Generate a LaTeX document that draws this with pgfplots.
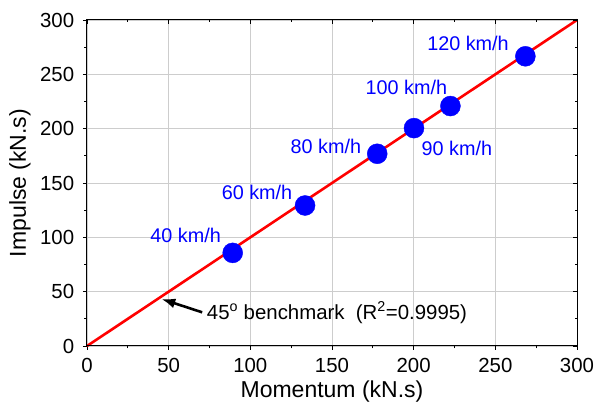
\documentclass[border=0pt]{standalone}
\usepackage{pgfplots}
\pgfplotsset{compat=1.18}
\usetikzlibrary{arrows.meta}
\usepackage{fontspec}
\setmainfont{Liberation Sans}
\definecolor{ptblue}{RGB}{0,0,255}
\definecolor{fitred}{RGB}{255,0,0}
\definecolor{gridgray}{RGB}{205,205,205}

\pgfplotstableread{
x      y
89.2   85.7
133.5  129.3
177.7  176.9
200.2  200.5
222.5  220.8
268.4  266.6
}\impulsedata

\begin{document}
\fontsize{20}{24}\selectfont
\begin{tikzpicture}
\begin{axis}[
  name=main,
  scale only axis,
  width=490pt, height=326pt,
  xmin=0, xmax=300, ymin=0, ymax=300,
  xtick={0,50,...,300}, ytick={0,50,...,300},
  minor x tick num=1, minor y tick num=1,
  xtick pos=left, ytick pos=left,
  tick align=outside,
  major tick length=4pt, minor tick length=2.5pt,
  every tick/.style={black, line width=0.8pt},
  grid=major,
  major grid style={gridgray, line width=0.9pt},
  axis line style={black, line width=1pt},
  /pgf/number format/assume math mode=true,
  ticklabel style={font=\fontsize{20.4}{24}\selectfont},
  xticklabel style={yshift=-1pt},
  yticklabel style={xshift=-2pt},
  xlabel={Momentum (kN.s)}, ylabel={Impulse (kN.s)},
  label style={font=\fontsize{23}{27}\selectfont},
  xlabel style={yshift=5pt},
  ylabel style={yshift=-4pt},
  clip=false,
]
  % 45 degree benchmark line
  \addplot[fitred, line width=2.6pt] coordinates {(0,0) (300,300)};
  % measured points
  \addplot[only marks, mark=*, mark size=10pt, ptblue] table[x=x, y=y] {\impulsedata};

  % speed labels
  \begin{scope}[every node/.style={text=ptblue, font=\fontsize{19.8}{24}\selectfont}]
    \node at (axis cs:60.4,101.6) {40 km/h};
    \node at (axis cs:104.1,141.5) {60 km/h};
    \node at (axis cs:146.3,183.9) {80 km/h};
    \node at (axis cs:226.5,182.1) {90 km/h};
    \node at (axis cs:195.5,238.3) {100 km/h};
    \node at (axis cs:233.3,278.8) {120 km/h};
  \end{scope}

  % annotation for the benchmark line
  \draw[-{Latex[length=14pt,width=10pt]}, black, line width=2.6pt]
    (axis cs:70.5,31.0) -- (axis cs:45.5,43.3);
  \node[anchor=west, inner sep=0pt, font=\fontsize{20.4}{24}\selectfont]
    at (axis cs:73.3,30.7) {45\textsuperscript{o} benchmark\ \ (R\textsuperscript{2}=0.9995)};

  \coordinate (bbsw) at (rel axis cs:0,0);
  \coordinate (bbne) at (rel axis cs:1,1);
\end{axis}
% mirrored ticks on the top and right, pointing inward
\begin{axis}[
  scale only axis,
  width=490pt, height=326pt,
  at={(main.south west)}, anchor=south west,
  xmin=0, xmax=300, ymin=0, ymax=300,
  xtick={0,50,...,300}, ytick={0,50,...,300},
  minor x tick num=1, minor y tick num=1,
  xtick pos=right, ytick pos=right,
  tick align=inside,
  major tick length=4pt, minor tick length=2.5pt,
  every tick/.style={black, line width=0.8pt},
  xticklabels={}, yticklabels={},
  axis line style={black, line width=1pt},
]
\end{axis}
\pgfresetboundingbox
\useasboundingbox ([shift={(-87pt,-60pt)}]bbsw) rectangle ([shift={(18pt,20pt)}]bbne);
\end{tikzpicture}
\end{document}
